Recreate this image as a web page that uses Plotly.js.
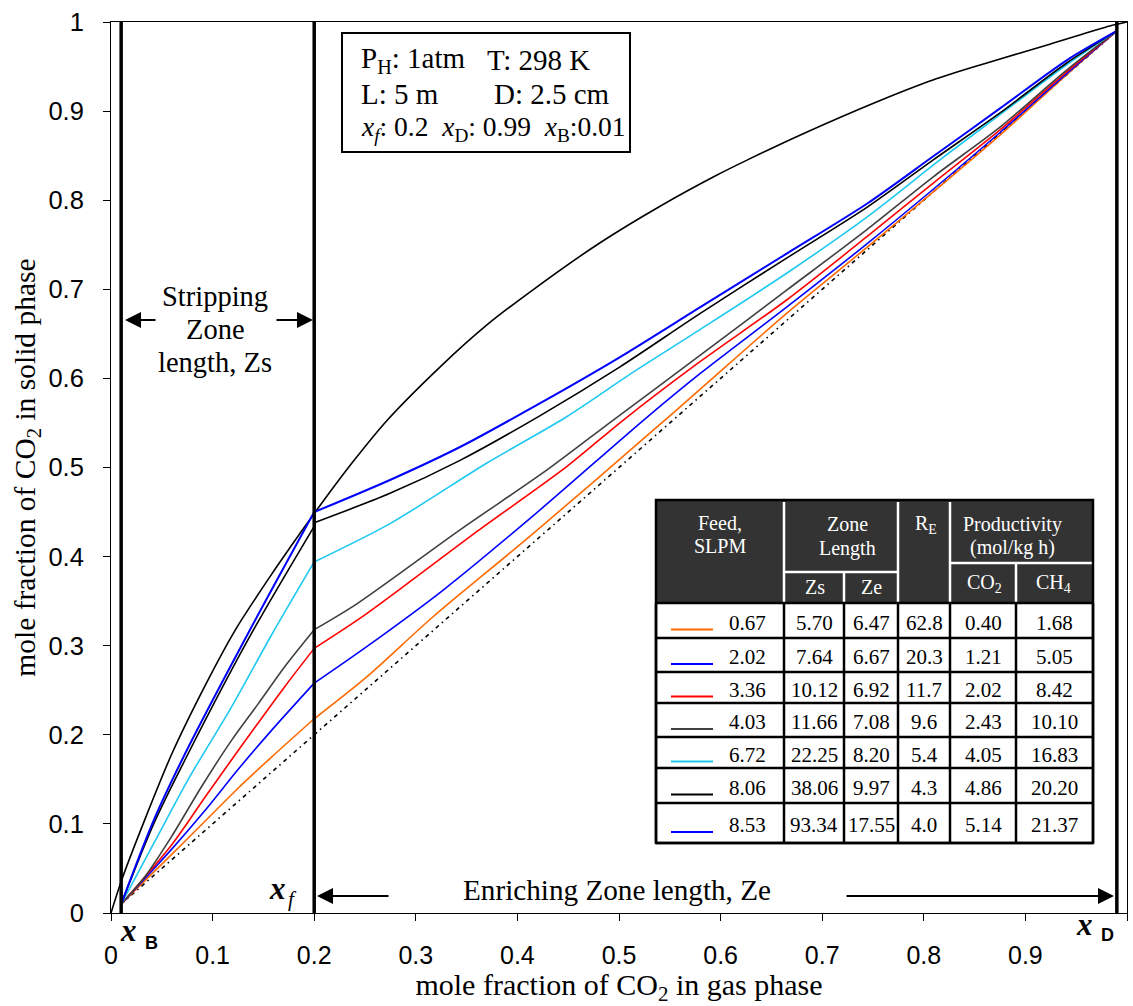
<!DOCTYPE html>
<html><head><meta charset="utf-8">
<script src="https://cdn.plot.ly/plotly-3.0.1.min.js"></script>
<style>html,body{margin:0;padding:0;background:#fff;}#chart{width:1133px;height:1006px;}</style>
</head><body><div id="chart"></div>
<script>
// ---------- data ----------
const eqX = [0, 0.0105, 0.033, 0.060, 0.0925, 0.122, 0.158, 0.191, 0.2106, 0.2385, 0.271, 0.324, 0.370, 0.416, 0.481, 0.540, 0.596, 0.626, 0.678, 0.757, 0.809, 0.862, 0.924, 0.983, 1.0];
const eqY = [0, 0.037, 0.104, 0.179, 0.255, 0.317, 0.380, 0.434, 0.465, 0.507, 0.552, 0.613, 0.660, 0.700, 0.752, 0.793, 0.828, 0.845, 0.873, 0.912, 0.935, 0.954, 0.975, 0.9955, 1.0];

const diagX = [0.01, 0.99];
const diagY = [0.01, 0.99];

const x067 = [0.01, 0.06, 0.0925, 0.125, 0.158, 0.2, 0.2517, 0.317, 0.4157, 0.540, 0.580, 0.665, 0.744, 0.809, 0.875, 0.9406, 0.99];
const y067 = [0.01, 0.066, 0.103, 0.140, 0.175, 0.218, 0.265, 0.3325, 0.426, 0.548, 0.588, 0.673, 0.747, 0.809, 0.873, 0.941, 0.99];

const x202 = [0.01, 0.06, 0.0925, 0.125, 0.158, 0.2, 0.2517, 0.327, 0.4157, 0.524, 0.580, 0.665, 0.744, 0.809, 0.875, 0.9406, 0.99];
const y202 = [0.01, 0.072, 0.115, 0.161, 0.205, 0.258, 0.299, 0.3625, 0.446, 0.553, 0.6056, 0.680, 0.751, 0.812, 0.876, 0.942, 0.99];

const x336 = [0.01, 0.06, 0.0925, 0.125, 0.171, 0.2, 0.2517, 0.360, 0.4485, 0.504, 0.580, 0.665, 0.744, 0.809, 0.875, 0.9406, 0.99];
const y336 = [0.01, 0.077, 0.130, 0.182, 0.254, 0.297, 0.336, 0.428, 0.501, 0.553, 0.619, 0.688, 0.759, 0.819, 0.879, 0.944, 0.99];

const x403 = [0.01, 0.0335, 0.0597, 0.0892, 0.1188, 0.145, 0.1713, 0.2, 0.242, 0.3435, 0.4288, 0.494, 0.580, 0.665, 0.744, 0.809, 0.875, 0.9406, 0.99];
const y403 = [0.01, 0.041, 0.086, 0.142, 0.194, 0.235, 0.277, 0.318, 0.347, 0.430, 0.497, 0.553, 0.626, 0.699, 0.767, 0.826, 0.882, 0.946, 0.99];

const x672 = [0.01, 0.043, 0.076, 0.119, 0.158, 0.2, 0.2746, 0.370, 0.4485, 0.514, 0.580, 0.665, 0.744, 0.819, 0.875, 0.9406, 0.99];
const y672 = [0.01, 0.080, 0.150, 0.232, 0.312, 0.394, 0.437, 0.505, 0.557, 0.607, 0.655, 0.718, 0.781, 0.848, 0.896, 0.952, 0.99];

const x806 = [0.01, 0.042, 0.076, 0.1384, 0.2, 0.2, 0.2746, 0.3435, 0.422, 0.501, 0.580, 0.665, 0.744, 0.809, 0.875, 0.9406, 0.99];
const y806 = [0.01, 0.100, 0.179, 0.314, 0.434, 0.438, 0.471, 0.508, 0.558, 0.613, 0.673, 0.735, 0.792, 0.845, 0.898, 0.954, 0.99];

const x853 = [0.01, 0.042, 0.073, 0.135, 0.2, 0.2746, 0.3435, 0.422, 0.501, 0.580, 0.665, 0.744, 0.809, 0.875, 0.9406, 0.99];
const y853 = [0.01, 0.104, 0.179, 0.314, 0.450, 0.486, 0.523, 0.572, 0.624, 0.680, 0.740, 0.796, 0.849, 0.903, 0.957, 0.99];

const xB = 0.01, xF = 0.2, xD = 0.99;

const tickVals = [0, 0.1, 0.2, 0.3, 0.4, 0.5, 0.6, 0.7, 0.8, 0.9, 1];
const tickText = ['0', '0.1', '0.2', '0.3', '0.4', '0.5', '0.6', '0.7', '0.8', '0.9', '1'];

// table
const feedLabels = ['0.67', '2.02', '3.36', '4.03', '6.72', '8.06', '8.53'];
const zsValues = ['5.70', '7.64', '10.12', '11.66', '22.25', '38.06', '93.34'];
const zeValues = ['6.47', '6.67', '6.92', '7.08', '8.20', '9.97', '17.55'];
const reValues = ['62.8', '20.3', '11.7', '9.6', '5.4', '4.3', '4.0'];
const co2Prod = ['0.40', '1.21', '2.02', '2.43', '4.05', '4.86', '5.14'];
const ch4Prod = ['1.68', '5.05', '8.42', '10.10', '16.83', '20.20', '21.37'];
const seriesColors = ['#ff6a00', '#0000ff', '#ff0000', '#404040', '#1ec8f0', '#000000', '#0000ff'];

// ---------- layout helpers (pixel -> paper) ----------
const L = 111, R = 1127, T = 22, B = 913;
const px = p => (p - L) / (R - L);
const py = p => (B - p) / (B - T);
const SERIF = '"Liberation Serif", "Times New Roman", serif';
const SANS = '"Liberation Sans", Arial, sans-serif';

const traces = [];
const line = (x, y, color, width, dash, smooth) => ({
  type: 'scatter', mode: 'lines', x: x, y: y, showlegend: false, hoverinfo: 'skip',
  line: {color: color, width: width, dash: dash || 'solid', shape: smooth ? 'spline' : 'linear', smoothing: 0.8}
});
// operating line: stripping part (x <= xF) and enriching part (x >= xF) drawn separately to keep the kink at the feed
const opLine = (x, y, color, width) => {
  const lastS = x.indexOf(xF);
  const firstE = x.lastIndexOf(xF);
  traces.push(line(x.slice(0, lastS + 1), y.slice(0, lastS + 1), color, width, null, true));
  traces.push(line(x.slice(firstE), y.slice(firstE), color, width, null, true));
};
traces.push(line(diagX, diagY, '#000', 1.6, '4px,4px,1.5px,4px'));
traces.push(line(eqX, eqY, '#000', 1.6, null, true));
opLine(x067, y067, seriesColors[0], 1.6);
opLine(x202, y202, seriesColors[1], 1.6);
opLine(x336, y336, seriesColors[2], 1.6);
opLine(x403, y403, seriesColors[3], 1.6);
opLine(x672, y672, seriesColors[4], 1.6);
opLine(x806, y806, seriesColors[5], 1.6);
opLine(x853, y853, seriesColors[6], 2);
[xB, xF, xD].forEach(v => traces.push(line([v, v], [0, 1], '#000', 3.5)));

const shapes = [];
const annotations = [];
const txt = (text, x, y, size, opt) => Object.assign({
  xref: 'paper', yref: 'paper', x: px(x), y: py(y), text: text, showarrow: false,
  xanchor: 'center', yanchor: 'middle', font: {family: SERIF, size: size, color: '#000'}
}, opt || {});
const arrow = (xh, yh, xt) => ({
  xref: 'paper', yref: 'paper', x: px(xh), y: py(yh), ax: xt - xh, ay: 0, text: '',
  showarrow: true, arrowhead: 2, arrowsize: 1.6, arrowwidth: 2, arrowcolor: '#000'
});

// info box
shapes.push({type: 'rect', xref: 'paper', yref: 'paper', x0: px(342), x1: px(630), y0: py(152), y1: py(33),
  line: {color: '#000', width: 2}, fillcolor: '#fff'});
annotations.push(txt('P<sub>H</sub>: 1atm', 359, 60, 29, {xanchor: 'left'}));
annotations.push(txt('T: 298 K', 485, 60, 29, {xanchor: 'left'}));
annotations.push(txt('L: 5 m', 359, 94, 29, {xanchor: 'left'}));
annotations.push(txt('D: 2.5 cm', 492, 94, 29, {xanchor: 'left'}));
annotations.push(txt('<i>x<sub>f</sub></i>: 0.2\u00a0\u00a0<i>x</i><sub>D</sub>: 0.99\u00a0\u00a0<i>x</i><sub>B</sub>:0.01', 359, 128, 27.5, {xanchor: 'left'}));

// stripping zone
annotations.push(txt('Stripping', 215, 296, 28.5));
annotations.push(txt('Zone', 215, 329, 28.5));
annotations.push(txt('length, Zs', 215, 362, 28.5));
annotations.push(arrow(125, 320, 157));
annotations.push(arrow(313, 320, 275));

// enriching zone
annotations.push(txt('Enriching Zone length, Ze', 617, 890, 29.2));
annotations.push(arrow(317, 896, 390));
annotations.push(arrow(1114, 896, 845));

// x labels
annotations.push(txt('<b><i>x</i></b>', 277, 888, 31));
annotations.push(txt('<i>f</i>', 292, 899, 21));
annotations.push(txt('<b><i>x</i></b>', 128, 930, 31));
annotations.push(txt('<b>B</b>', 151, 943, 18, {font: {family: SANS, size: 18, color: '#000'}}));
annotations.push(txt('<b><i>x</i></b>', 1084, 924, 31));
annotations.push(txt('<b>D</b>', 1107, 935, 18, {font: {family: SANS, size: 18, color: '#000'}}));

// ---------- table ----------
const colX = [656, 784, 844, 898, 950, 1016, 1093];
const rowY = [603, 638, 672, 703, 737, 768, 803, 843];
const headTop = 500;
const hl = (x0, x1, y0, y1, color, w) => shapes.push({type: 'line', xref: 'paper', yref: 'paper',
  x0: px(x0), x1: px(x1), y0: py(y0), y1: py(y1), line: {color: color, width: w}});
shapes.push({type: 'rect', xref: 'paper', yref: 'paper', x0: px(colX[0]), x1: px(colX[6]), y0: py(rowY[0]), y1: py(headTop),
  line: {width: 0}, fillcolor: '#333333'});
shapes.push({type: 'rect', xref: 'paper', yref: 'paper', x0: px(colX[0]), x1: px(colX[6]), y0: py(rowY[7]), y1: py(rowY[0]),
  line: {width: 0}, fillcolor: '#ffffff'});
hl(colX[1], colX[1], headTop + 2, rowY[0], '#fff', 2.5);
hl(colX[3], colX[3], headTop + 2, rowY[0], '#fff', 2.5);
hl(colX[4], colX[4], headTop + 2, rowY[0], '#fff', 2.5);
hl(colX[1], colX[3], 572, 572, '#fff', 2.5);
hl(colX[2], colX[2], 572, rowY[0], '#fff', 2.5);
hl(colX[4], colX[6], 563, 563, '#fff', 2.5);
hl(colX[5], colX[5], 563, rowY[0], '#fff', 2.5);
rowY.forEach(r => hl(colX[0], colX[6], r, r, '#000', 2.5));
colX.forEach(c => hl(c, c, rowY[0], rowY[7], '#000', 2.5));
shapes.push({type: 'rect', xref: 'paper', yref: 'paper', x0: px(colX[0]), x1: px(colX[6]), y0: py(rowY[7]), y1: py(headTop),
  line: {color: '#000', width: 2.5}, fillcolor: 'rgba(0,0,0,0)'});

const wt = (text, x, y) => txt(text, x, y, 20, {font: {family: SERIF, size: 20, color: '#fff'}});
annotations.push(wt('Feed,', 720, 523));
annotations.push(wt('SLPM', 720, 546));
annotations.push(wt('Zone', 847, 524));
annotations.push(wt('Length', 847, 548));
annotations.push(wt('R<sub>E</sub>', 926, 524));
annotations.push(wt('Productivity', 1012, 524));
annotations.push(wt('(mol/kg h)', 1012, 547));
annotations.push(wt('Zs', 815, 587));
annotations.push(wt('Ze', 871, 587));
annotations.push(wt('CO<sub>2</sub>', 984, 583));
annotations.push(wt('CH<sub>4</sub>', 1053, 583));

const cols = [zsValues, zeValues, reValues, co2Prod, ch4Prod];
for (let i = 0; i < feedLabels.length; i++) {
  const yc = (rowY[i] + rowY[i + 1]) / 2 + 2;
  annotations.push(txt(feedLabels[i], 747, yc, 21));
  cols.forEach((arr, j) => {
    annotations.push(txt(arr[i], (colX[j + 1] + colX[j + 2]) / 2, yc, 21));
  });
  const ly = yc + 7;
  hl(671, 713, ly, ly, seriesColors[i], 2);
}

const layout = {
  width: 1133, height: 1006,
  margin: {l: L, r: 1133 - R, t: T, b: 1006 - B, pad: 0},
  paper_bgcolor: '#fff', plot_bgcolor: '#fff',
  showlegend: false,
  xaxis: {
    range: [0, 1], tickvals: tickVals, ticktext: tickText,
    showgrid: false, zeroline: false, showline: true, linecolor: '#000', linewidth: 1, mirror: true,
    ticks: 'outside', ticklen: 7, tickcolor: '#000', ticklabelstandoff: 13,
    tickfont: {family: SANS, size: 25, color: '#000'},
    title: {text: 'mole fraction of CO<sub>2</sub> in gas phase', font: {family: SERIF, size: 30, color: '#000'}, standoff: 22}
  },
  yaxis: {
    range: [0, 1], tickvals: tickVals, ticktext: tickText,
    showgrid: false, zeroline: false, showline: true, linecolor: '#000', linewidth: 1, mirror: true,
    ticks: 'outside', ticklen: 7, tickcolor: '#000', ticklabelstandoff: 14,
    tickfont: {family: SANS, size: 25.5, color: '#000'},
    title: {text: 'mole fraction of CO<sub>2</sub> in solid phase', font: {family: SERIF, size: 29.5, color: '#000'}, standoff: 4}
  },
  shapes: shapes,
  annotations: annotations
};

Plotly.newPlot('chart', traces, layout, {displayModeBar: false, staticPlot: true});
</script>
</body></html>
